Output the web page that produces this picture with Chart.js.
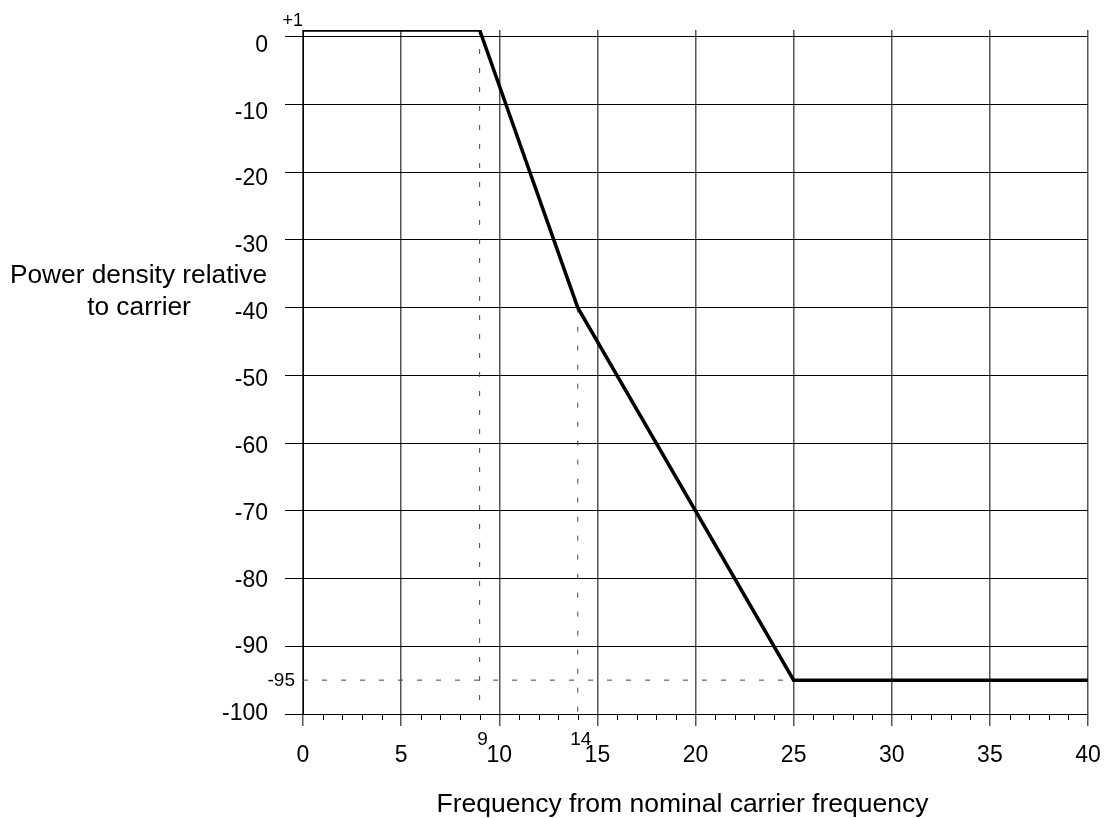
<!DOCTYPE html>
<html>
<head>
<meta charset="utf-8">
<title>Power density mask</title>
<script src="https://cdn.jsdelivr.net/npm/chart.js@4.4.1/dist/chart.umd.min.js"></script>
<style>
  html, body { margin: 0; padding: 0; background: #fff; }
  #wrap { width: 1107px; height: 818px; }
</style>
</head>
<body>
<div id="wrap"><canvas id="maskChart" width="1107" height="818"></canvas></div>
<script>
// mask corners
var freqPoints = [0, 9, 14, 25, 40];
var levelPoints = [1, 1, -40, -95, -95];

// axis ticks
var xTicks = [0, 5, 10, 15, 20, 25, 30, 35, 40];
var xMinorStep = 1;
var yTicks = [0, -10, -20, -30, -40, -50, -60, -70, -80, -90, -100];

// dotted guide lines
var guide9Freq = [9, 9];
var guide9Level = [1, -100];
var guide14Freq = [14, 14];
var guide14Level = [-40, -100];
var guide95Freq = [0, 25];
var guide95Level = [-95, -95];

// small marker labels
var markFreqs = [9, 14];
var markTop = 1;
var markFloor = -95;

var fontFam = '"Liberation Sans", Arial, sans-serif';
// the printed y labels sit on a slightly tighter spacing than the grid
var labelAxisMax = 2.3;

function toXY(xs, ys) {
  return xs.map(function (x, i) { return { x: x, y: ys[i] }; });
}

function guideSet(xs, ys) {
  return {
    data: toXY(xs, ys),
    borderColor: '#444',
    borderWidth: 1,
    borderDash: [5, 14],
    pointRadius: 0,
    fill: false
  };
}

function setYTicks(s) {
  s.ticks = yTicks.map(function (v) { return { value: v }; });
}

// minor ticks, marker labels and the two titles
var extrasPlugin = {
  id: 'extras',
  afterDraw: function (chart) {
    var ctx = chart.ctx;
    var xs = chart.scales.x;
    var ys = chart.scales.y;
    var area = chart.chartArea;
    ctx.save();

    ctx.strokeStyle = '#000';
    ctx.lineWidth = 1;
    for (var v = xs.min; v <= xs.max; v += xMinorStep) {
      if (v % 5 === 0) continue;
      var px = Math.round(xs.getPixelForValue(v)) + 0.5;
      ctx.beginPath();
      ctx.moveTo(px, area.bottom);
      ctx.lineTo(px, area.bottom + 6);
      ctx.stroke();
    }

    ctx.fillStyle = '#000';
    ctx.font = '19px ' + fontFam;
    ctx.textAlign = 'center';
    ctx.textBaseline = 'alphabetic';
    markFreqs.forEach(function (f) {
      ctx.fillText(String(f), xs.getPixelForValue(f) + 3, area.bottom + 31);
    });

    ctx.font = '18px ' + fontFam;
    ctx.textAlign = 'right';
    ctx.fillText('+' + markTop, area.left, ys.getPixelForValue(markTop) - 4);
    ctx.font = '19px ' + fontFam;
    ctx.textBaseline = 'middle';
    ctx.fillText(String(markFloor), area.left - 8, ys.getPixelForValue(markFloor) + 1);

    ctx.font = '26.3px ' + fontFam;
    ctx.textAlign = 'center';
    ctx.textBaseline = 'alphabetic';
    ctx.fillText('Power density relative', 138.5, 283);
    ctx.fillText('to carrier', 139, 315);

    ctx.font = '26.5px ' + fontFam;
    ctx.fillText('Frequency from nominal carrier frequency', 682.5, 812);

    ctx.restore();
  }
};

var ctx = document.getElementById('maskChart').getContext('2d');

new Chart(ctx, {
  type: 'line',
  data: {
    datasets: [
      {
        data: toXY(freqPoints, levelPoints),
        borderColor: '#000',
        borderWidth: 3.5,
        pointRadius: 0,
        tension: 0,
        fill: false
      },
      guideSet(guide9Freq, guide9Level),
      guideSet(guide14Freq, guide14Level),
      guideSet(guide95Freq, guide95Level)
    ]
  },
  options: {
    responsive: false,
    animation: false,
    layout: { padding: { top: 30, right: 19, left: 0, bottom: 0 } },
    plugins: {
      legend: { display: false },
      tooltip: { enabled: false }
    },
    scales: {
      x: {
        type: 'linear',
        min: 0,
        max: 40,
        afterBuildTicks: function (s) { s.ticks = xTicks.map(function (v) { return { value: v }; }); },
        afterFit: function (s) {
          s.height = 104;
          s.paddingLeft = 0;
          s.paddingRight = 0;
        },
        border: { color: '#000', width: 1 },
        grid: { color: '#555', lineWidth: 1.5, tickLength: 12, tickColor: '#555' },
        ticks: { color: '#000', font: { family: fontFam, size: 23 }, padding: 16, maxRotation: 0 }
      },
      y: {
        type: 'linear',
        min: -100,
        max: 1,
        weight: 0,
        afterBuildTicks: setYTicks,
        afterFit: function (s) {
          s.width = 18;
          s.paddingTop = 0;
          s.paddingBottom = 0;
        },
        border: { color: '#000', width: 1 },
        grid: { color: '#000', lineWidth: 1, tickLength: 18, tickColor: '#000' },
        ticks: { display: false }
      },
      yLabels: {
        type: 'linear',
        position: 'left',
        min: -100,
        max: labelAxisMax,
        weight: 1,
        afterBuildTicks: setYTicks,
        afterFit: function (s) {
          s.width = 285;
          s.paddingTop = 0;
          s.paddingBottom = 0;
        },
        border: { display: false },
        grid: { display: false, drawTicks: false },
        ticks: { color: '#000', font: { family: fontFam, size: 23 }, padding: 17 }
      }
    }
  },
  plugins: [extrasPlugin]
});
</script>
</body>
</html>
